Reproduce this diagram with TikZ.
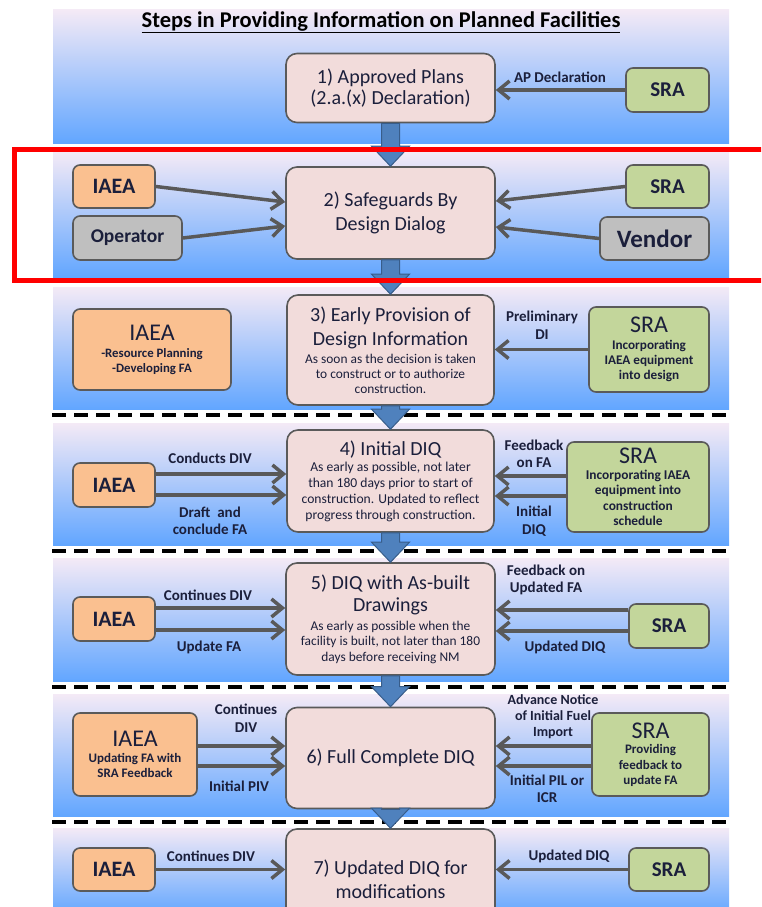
\documentclass[tikz,border=0pt]{standalone}
\usepackage{fontspec}
\setmainfont{Carlito}
\usetikzlibrary{arrows.meta,calc}
\definecolor{boxpink}{HTML}{F2DCDB}
\definecolor{boxline}{HTML}{5A5A5A}
\definecolor{iaeaor}{HTML}{FAC090}
\definecolor{sragr}{HTML}{C3D69B}
\definecolor{opgray}{HTML}{BFBFBF}
\definecolor{conngray}{HTML}{595959}
\definecolor{bluearr}{HTML}{4F81BD}
\definecolor{bluearrline}{HTML}{385D8A}
\definecolor{paneltop}{HTML}{F4EAF6}
\definecolor{panelbot}{HTML}{62A6FF}
\definecolor{txt}{HTML}{1B1F3B}
\newcommand{\fs}[2]{\fontsize{#1}{#2}\selectfont}
\newcommand{\blockarrow}[2]{%
  \path[fill=bluearr,draw=bluearrline,line width=1pt] let \p1=(#1.south), \p2=(#2.north) in
  (\x1-9,\y1) -- (\x1+9,\y1) -- (\x1+9,\y2+20) -- (\x1+19,\y2+20) -- (\x1,\y2)
  -- (\x1-19,\y2+20) -- (\x1-9,\y2+20) -- cycle;}
\begin{document}
\begin{tikzpicture}[x=1pt,y=-1pt,
  panel/.style={top color=paneltop,bottom color=panelbot,draw=none},
  mainbox/.style={draw=boxline,line width=1.6pt,fill=boxpink,rounded corners=11pt,inner sep=0pt,align=center,text=txt},
  sidebox/.style={draw=boxline,line width=1.6pt,rounded corners=7pt,inner sep=0pt,align=center,text=txt},
  iaea/.style={sidebox,fill=iaeaor},
  sra/.style={sidebox,fill=sragr},
  grey/.style={sidebox,fill=opgray},
  lbl/.style={inner sep=0pt,align=center,text=txt,font=\bfseries\fs{15}{17.5}},
  conn/.style={draw=conngray,line width=3.5pt,-{Straight Barb[length=11pt,width=18pt]}},
  sepline/.style={draw=black,line width=4.5pt,dash pattern=on 14pt off 8pt},
]
\useasboundingbox (0,0) rectangle (761,907);
\clip (0,0) rectangle (761,907);
% panels
\path[panel] (53,10) rectangle (729,143);
\path[panel] (53,152) rectangle (729,277);
\path[panel] (53,287) rectangle (729,409);
\path[panel] (53,423) rectangle (729,545);
\path[panel] (53,558) rectangle (729,681);
\path[panel] (53,694) rectangle (729,816);
\path[panel] (53,828) rectangle (729,915);
% separators
\draw[sepline] (52,415) -- (733,415);
\draw[sepline] (52,551) -- (733,551);
\draw[sepline] (52,687) -- (733,687);
\draw[sepline] (52,822) -- (733,822);
% title
\node[font=\bfseries\fs{22.5}{26},text=black,inner sep=0pt] (title) at (381,22) {\underline{Steps in Providing Information on Planned Facilities}};
% ---------- panel 1
\node[mainbox,minimum width=209pt,minimum height=69pt,font=\fs{20}{21}] (b1) at (390.5,88) {1) Approved Plans\\(2.a.(x) Declaration)};
\node[sra,minimum width=83pt,minimum height=44pt,font=\bfseries\fs{21}{24}] (sra1) at (667.5,90) {SRA};
\node[lbl] (l1) at (560,77) {AP Declaration};
\draw[conn] (sra1.west) -- (sra1.west -| b1.east);
% ---------- panel 2
\node[mainbox,minimum width=209pt,minimum height=92pt,font=\fs{20}{24}] (b2) at (390.5,213) {2) Safeguards By\\Design Dialog};
\node[iaea,minimum width=82pt,minimum height=43pt,font=\bfseries\fs{22}{24}] (iaea2) at (114,186.5) {IAEA};
\node[grey,minimum width=109pt,minimum height=44pt,font=\bfseries\fs{19.5}{22}] (op2) at (127.5,238) {Operator};
\node[sra,minimum width=83pt,minimum height=43pt,font=\bfseries\fs{21}{24}] (sra2) at (667.5,186.5) {SRA};
\node[grey,minimum width=109pt,minimum height=43pt,font=\bfseries\fs{25}{26}] (ven2) at (654.5,238.5) {Vendor};
\draw[conn] (iaea2.east) -- (b2.west |- 0,202);
\draw[conn] (op2.east) -- (b2.west |- 0,226);
\draw[conn] (sra2.west) -- (b2.east |- 0,201);
\draw[conn] (ven2.west) -- (b2.east |- 0,227);
% ---------- panel 3
\node[mainbox,minimum width=207pt,minimum height=110pt,font=\fs{13.4}{15}] (b3) at (390.5,350)
  {{\fs{20}{24}3) Early Provision of}\\[6pt]{\fs{20}{24}Design Information}\\[3pt]
   As soon as the decision is taken\\to construct or to authorize\\construction.};
\node[iaea,minimum width=158pt,minimum height=81pt,font=\bfseries\fs{12.8}{15}] (iaea3) at (152,349.5)
  {{\mdseries\fs{24}{28}IAEA}\\[2pt]-Resource Planning\\-Developing FA};
\node[sra,minimum width=120pt,minimum height=85pt,font=\bfseries\fs{13.2}{15}] (sra3) at (649,349.5)
  {{\mdseries\fs{24}{28}SRA}\\[2pt]Incorporating\\IAEA equipment\\into design};
\node[lbl] (l3) at (542,325) {Preliminary\\DI};
\draw[conn] (sra3.west) -- (sra3.west -| b3.east);
% ---------- panel 4
\node[mainbox,minimum width=207pt,minimum height=102pt,font=\fs{13.6}{15.7}] (b4) at (390.5,481)
  {{\fs{20}{24}4) Initial DIQ}\\[1pt]
   As early as possible, not later\\than 180 days prior to start of\\construction. Updated to reflect\\progress through construction.};
\node[iaea,minimum width=82pt,minimum height=44pt,font=\bfseries\fs{22}{24}] (iaea4) at (114,485) {IAEA};
\node[sra,minimum width=142pt,minimum height=90pt,font=\bfseries\fs{13.4}{15.5}] (sra4) at (638,487)
  {{\mdseries\fs{24}{28}SRA}\\Incorporating IAEA\\equipment into\\construction\\schedule};
\node[lbl] (l4a) at (210,458) {Conducts DIV};
\node[lbl] (l4b) at (210,521) {Draft~~and\\conclude FA};
\node[lbl] (l4c) at (534,454) {Feedback\\on FA};
\node[lbl] (l4d) at (534,521) {Initial\\DIQ};
\draw[conn] (iaea4.east |- 0,474) -- (b4.west |- 0,474);
\draw[conn] (iaea4.east |- 0,495) -- (b4.west |- 0,495);
\draw[conn] (sra4.west |- 0,476) -- (b4.east |- 0,476);
\draw[conn] (sra4.west |- 0,496) -- (b4.east |- 0,496);
% ---------- panel 5
\node[mainbox,minimum width=209pt,minimum height=112pt,font=\fs{13.4}{15.5}] (b5) at (390.5,619)
  {{\fs{20}{24}5) DIQ with As-built}\\[5pt]{\fs{20}{24}Drawings}\\[3pt]
   As early as possible when the\\facility is built, not later than 180\\days before receiving NM};
\node[iaea,minimum width=82pt,minimum height=44pt,font=\bfseries\fs{22}{24}] (iaea5) at (114,619) {IAEA};
\node[sra,minimum width=80pt,minimum height=44pt,font=\bfseries\fs{21}{24}] (sra5) at (669,626) {SRA};
\node[lbl] (l5a) at (208,595) {Continues DIV};
\node[lbl] (l5b) at (209,647) {Update FA};
\node[lbl] (l5c) at (546,580) {Feedback on\\Updated FA};
\node[lbl] (l5d) at (565,647) {Updated DIQ};
\draw[conn] (iaea5.east |- 0,608) -- (b5.west |- 0,608);
\draw[conn] (iaea5.east |- 0,630) -- (b5.west |- 0,630);
\draw[conn] (sra5.west |- 0,610) -- (b5.east |- 0,610);
\draw[conn] (sra5.west |- 0,631) -- (b5.east |- 0,631);
% ---------- panel 6
\node[mainbox,minimum width=209pt,minimum height=101pt,font=\fs{20}{24}] (b6) at (390.5,758) {6) Full Complete DIQ};
\node[iaea,minimum width=124pt,minimum height=83pt,font=\bfseries\fs{13}{15.5}] (iaea6) at (135,754.5)
  {{\mdseries\fs{24}{28}IAEA}\\Updating FA with\\SRA Feedback};
\node[sra,minimum width=117pt,minimum height=83pt,font=\bfseries\fs{13}{15.5}] (sra6) at (650.5,754.5)
  {{\mdseries\fs{24}{28}SRA}\\Providing\\feedback to\\update FA};
\node[lbl] (l6a) at (246,718) {Continues\\DIV};
\node[lbl] (l6b) at (239,786) {Initial PIV};
\node[lbl,font=\bfseries\fs{14}{16}] (l6c) at (553,717) {Advance Notice\\of Initial Fuel\\Import};
\node[lbl] (l6d) at (547,789) {Initial PIL or\\ICR};
\draw[conn] (iaea6.east |- 0,746) -- (b6.west |- 0,746);
\draw[conn] (iaea6.east |- 0,766) -- (b6.west |- 0,766);
\draw[conn] (sra6.west |- 0,746) -- (b6.east |- 0,746);
\draw[conn] (sra6.west |- 0,766) -- (b6.east |- 0,766);
% ---------- panel 7
\node[mainbox,minimum width=209pt,minimum height=100pt,font=\fs{20}{24}] (b7) at (390.5,879) {7) Updated DIQ for\\modifications};
\node[iaea,minimum width=82pt,minimum height=43pt,font=\bfseries\fs{22}{24}] (iaea7) at (114,869.5) {IAEA};
\node[sra,minimum width=80pt,minimum height=43pt,font=\bfseries\fs{21}{24}] (sra7) at (669,869.5) {SRA};
\node[lbl] (l7a) at (211,856) {Continues DIV};
\node[lbl] (l7b) at (569,856) {Updated DIQ};
\draw[conn] (iaea7.east) -- (iaea7.east -| b7.west);
\draw[conn] (sra7.west) -- (sra7.west -| b7.east);
% ---------- block arrows between steps
\blockarrow{b1}{b2}
\blockarrow{b2}{b3}
\blockarrow{b3}{b4}
\blockarrow{b4}{b5}
\blockarrow{b5}{b6}
\blockarrow{b6}{b7}
% ---------- red highlight frame
\draw[red,line width=5pt] (775,149) -- (14,149) -- (14,280) -- (775,280);
\end{tikzpicture}
\end{document}
